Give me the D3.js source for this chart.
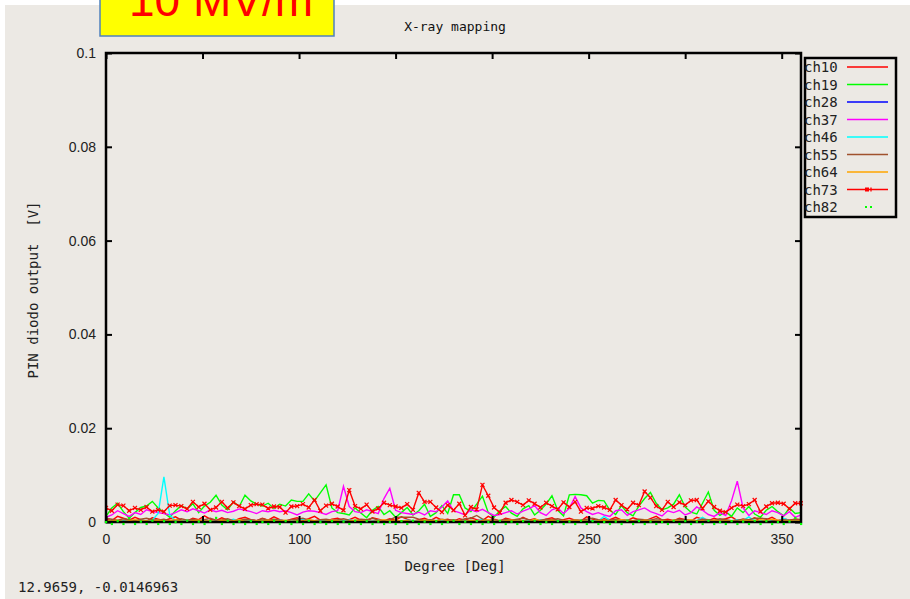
<!DOCTYPE html>
<html>
<head>
<meta charset="utf-8">
<script src="https://cdn.jsdelivr.net/npm/d3@7"></script>
<style>
  body { margin: 0; background: #fff; }
</style>
</head>
<body>
<script>
// x positions (degrees) shared by all channels
const degrees = [
  0, 3, 6, 9, 12, 15, 18, 21, 24, 27,
  30, 33, 36, 39, 42, 45, 48, 51, 54, 57,
  60, 63, 66, 69, 72, 75, 78, 81, 84, 87,
  90, 93, 96, 99, 102, 105, 108, 111, 114, 117,
  120, 123, 126, 129, 132, 135, 138, 141, 144, 147,
  150, 153, 156, 159, 162, 165, 168, 171, 174, 177,
  180, 183, 186, 189, 192, 195, 198, 201, 204, 207,
  210, 213, 216, 219, 222, 225, 228, 231, 234, 237,
  240, 243, 246, 249, 252, 255, 258, 261, 264, 267,
  270, 273, 276, 279, 282, 285, 288, 291, 294, 297,
  300, 303, 306, 309, 312, 315, 318, 321, 324, 327,
  330, 333, 336, 339, 342, 345, 348, 351, 354, 357,
  360
];

// PIN diode output per channel, in mV
const ch10 = [
  0.6, 0.3, 1.2, 0.8, 0.4, 1.0, 0.5, 0.2, 0.9, 0.6,
  0.3, 0.7, 1.1, 0.4, 0.2, 0.8, 0.5, 1.3, 0.6, 0.3,
  0.9, 0.4, 0.2, 0.7, 1.0, 0.5, 0.3, 0.8, 0.4, 1.1,
  0.5, 0.2, 0.6, 0.9, 0.3, 0.7, 1.2, 0.4, 0.2, 0.6,
  0.8, 0.3, 0.5, 1.0, 0.4, 0.2, 0.9, 0.6, 0.3, 0.7,
  0.4, 1.1, 0.6, 0.2, 0.5, 0.8, 0.3, 1.0, 0.4, 0.6,
  0.2, 0.7, 0.4, 0.9, 0.5, 0.3, 1.2, 0.6, 0.2, 0.8,
  0.5, 0.3, 1.0, 0.4, 0.7, 0.2, 0.6, 0.9, 0.3, 0.5,
  0.8, 0.4, 0.2, 1.1, 0.6, 0.3, 0.7, 0.5, 1.0, 0.4,
  0.3, 0.9, 0.5, 0.2, 0.7, 1.2, 0.4, 0.6, 0.3, 0.8,
  0.5, 0.2, 1.0, 0.6, 0.3, 0.8, 0.4, 0.7, 1.1, 0.3,
  0.6, 0.4, 0.9, 0.2, 0.5, 1.0, 0.3, 0.7, 0.4, 0.6,
  0.5
];
const ch19 = [
  1.2, 3.0, 4.0, 2.2, 0.8, 2.0, 3.1, 3.4, 4.4, 3.0,
  2.0, 1.0, 2.4, 3.5, 2.8, 3.9, 2.0, 3.4, 4.2, 5.7,
  3.6, 2.6, 4.3, 3.3, 5.7, 4.5, 3.8, 3.4, 4.0, 2.9,
  3.8, 3.4, 4.7, 4.4, 4.4, 6.0, 4.5, 6.2, 7.9, 3.0,
  2.0, 1.8, 1.5, 3.0, 1.9, 0.9, 2.5, 3.3, 1.6, 2.4,
  1.0, 2.0, 3.1, 1.5, 2.4, 3.8, 1.2, 2.0, 3.5, 1.8,
  5.8, 5.8, 3.0, 2.2, 3.8, 5.5, 2.0, 1.0, 2.4, 3.3,
  1.9, 1.2, 2.8, 3.5, 1.5, 2.5, 3.8, 5.6, 2.5, 1.3,
  5.8, 5.9, 5.8, 5.6, 4.0, 4.6, 4.5, 2.5, 1.6, 3.5,
  2.0, 1.3, 3.4, 5.0, 6.3, 4.0, 2.6, 3.0, 3.8, 5.8,
  3.2, 2.1, 1.7, 4.0, 6.4, 2.5, 1.4, 2.2, 1.2, 3.0,
  2.0, 3.3, 1.7, 1.0, 2.5, 3.3, 2.2, 1.3, 3.0, 1.8,
  2.0
];
const ch28 = [
  0.1, 0.2, 0.0, 0.3, 0.1, 0.2, 0.1, 0.0, 0.2, 0.1,
  0.3, 0.1, 0.2, 0.0, 0.1, 0.3, 0.2, 0.1, 0.0, 0.2,
  0.1, 0.0, 0.3, 0.1, 0.2, 0.1, 0.0, 0.2, 0.3, 0.1,
  0.2, 0.1, 0.0, 0.2, 0.1, 0.3, 0.1, 0.2, 0.0, 0.1,
  0.0, 0.2, 0.1, 0.3, 0.2, 0.0, 0.1, 0.2, 0.1, 0.0,
  0.2, 0.1, 0.3, 0.0, 0.1, 0.2, 0.1, 0.0, 0.2, 0.3,
  0.1, 0.2, 0.0, 0.1, 0.3, 0.1, 0.2, 0.0, 0.1, 0.2,
  0.0, 0.1, 0.2, 0.3, 0.1, 0.0, 0.2, 0.1, 0.3, 0.1,
  0.2, 0.0, 0.1, 0.2, 0.1, 0.3, 0.0, 0.2, 0.1, 0.0,
  0.1, 0.3, 0.2, 0.0, 0.1, 0.2, 0.1, 0.3, 0.0, 0.2,
  0.1, 0.0, 0.2, 0.1, 0.3, 0.1, 0.0, 0.2, 0.1, 0.2,
  0.3, 0.1, 0.0, 0.2, 0.1, 0.0, 0.3, 0.1, 0.2, 0.1,
  0.0
];
const ch37 = [
  1.0, 1.5, 2.4, 1.8, 1.2, 2.0, 1.6, 2.6, 2.2, 2.0,
  1.8, 1.5, 2.0, 2.6, 2.2, 2.8, 2.4, 1.9, 2.6, 2.2,
  2.5, 2.0, 2.3, 2.8, 2.5, 2.2, 1.8, 2.4, 2.2, 2.5,
  2.2, 2.4, 2.0, 1.5, 2.1, 2.4, 2.3, 2.0, 1.6, 2.2,
  2.4, 7.6, 3.3, 2.2, 2.0, 2.6, 2.2, 1.8, 5.0, 7.2,
  2.5, 2.0, 1.8, 1.6, 2.1, 1.5, 2.4, 2.2, 3.2, 4.5,
  2.4, 2.0, 1.5, 2.6, 2.2, 2.7, 2.0, 1.4, 1.6, 2.0,
  2.4, 1.7, 2.3, 2.8, 3.5, 2.0, 1.4, 2.6, 3.0, 1.8,
  2.9, 5.4, 3.0, 2.2, 1.6, 2.0, 1.5, 1.2, 2.4, 2.6,
  1.4, 2.2, 2.6, 3.0, 2.2, 1.8, 1.3, 2.4, 2.0, 2.5,
  1.5, 2.0, 3.2, 2.5, 1.6, 1.2, 2.0, 1.4, 4.5, 8.7,
  3.0, 1.4, 2.4, 2.0, 1.6, 2.4, 2.0, 1.3, 2.2, 1.0,
  1.5
];
const ch46 = [
  0.2, 0.1, 0.4, 0.2, 0.3, 0.1, 0.5, 0.2, 0.4, 1.8,
  9.6, 1.5, 0.3, 0.2, 0.4, 0.1, 0.3, 0.5, 0.2, 0.1,
  0.3, 0.2, 0.6, 0.2, 0.1, 0.4, 0.2, 0.3, 0.1, 0.2,
  0.4, 0.2, 0.1, 0.3, 0.6, 0.2, 0.1, 0.3, 0.2, 0.4,
  0.2, 0.3, 0.5, 0.1, 0.2, 0.3, 0.1, 0.4, 0.2, 0.3,
  0.1, 0.2, 0.4, 0.3, 0.1, 0.2, 0.5, 0.2, 0.3, 0.1,
  0.3, 0.2, 0.1, 0.4, 0.2, 0.6, 0.3, 0.1, 0.2, 0.3,
  0.2, 0.4, 0.1, 0.3, 0.2, 0.5, 0.2, 0.3, 0.1, 0.2,
  0.3, 0.1, 0.2, 0.4, 0.3, 0.2, 1.2, 0.3, 0.1, 0.2,
  0.4, 0.2, 0.3, 0.1, 0.5, 0.2, 0.3, 0.2, 0.1, 0.3,
  0.2, 0.4, 0.3, 1.0, 0.2, 0.1, 0.4, 0.3, 0.2, 0.5,
  0.3, 1.1, 0.2, 0.3, 0.1, 0.4, 0.2, 0.8, 0.3, 0.2,
  0.1
];
const ch55 = [
  0.8, 0.6, 0.4, 0.7, 0.5, 0.3, 0.6, 0.8, 0.5, 0.4,
  0.6, 0.3, 0.5, 0.7, 0.4, 0.6, 0.3, 0.5, 0.8, 0.4,
  0.5, 0.7, 0.3, 0.4, 0.6, 0.5, 0.3, 0.7, 0.4, 0.6,
  0.4, 0.3, 0.5, 0.6, 0.8, 0.4, 0.3, 0.5, 0.6, 0.4,
  0.5, 0.7, 0.4, 0.3, 0.6, 0.5, 0.8, 0.4, 0.3, 0.5,
  1.0, 1.0, 1.0, 1.0, 0.6, 0.4, 0.5, 0.3, 0.6, 0.4,
  0.5, 0.3, 0.7, 0.8, 1.4, 0.6, 0.4, 0.5, 0.3, 0.6,
  0.4, 0.6, 0.8, 0.5, 0.3, 0.4, 0.6, 0.5, 0.7, 0.4,
  0.3, 0.5, 0.4, 0.6, 0.8, 0.5, 0.3, 0.4, 0.6, 0.5,
  0.4, 0.3, 0.6, 0.5, 0.4, 0.7, 0.5, 0.3, 0.4, 0.6,
  0.5, 0.4, 0.3, 0.6, 0.5, 0.4, 0.7, 0.5, 0.3, 0.4,
  0.6, 0.5, 0.8, 0.8, 0.7, 0.4, 0.3, 0.5, 0.4, 0.6,
  0.5
];
const ch64 = [
  0.3, 0.2, 0.4, 0.1, 0.3, 0.5, 0.2, 0.3, 0.1, 0.4,
  0.2, 0.3, 0.5, 0.2, 0.1, 0.3, 0.4, 0.2, 0.3, 0.1,
  0.4, 0.2, 0.3, 0.5, 0.2, 0.1, 0.3, 0.2, 0.4, 0.3,
  0.2, 0.4, 0.1, 0.3, 0.2, 0.5, 0.3, 0.1, 0.2, 0.4,
  0.3, 0.1, 0.2, 0.4, 0.3, 0.2, 0.1, 0.3, 0.5, 0.2,
  0.4, 0.2, 0.3, 0.1, 0.2, 0.4, 0.3, 0.2, 0.5, 0.3,
  0.2, 0.3, 0.1, 0.4, 0.2, 0.3, 0.5, 0.2, 0.1, 0.3,
  0.4, 0.2, 0.3, 0.1, 0.6, 0.3, 0.2, 0.4, 0.1, 0.3,
  0.2, 0.4, 0.3, 0.2, 0.1, 0.3, 0.4, 0.2, 0.3, 0.5,
  0.3, 0.2, 0.1, 0.4, 0.3, 0.2, 0.3, 0.1, 0.4, 0.2,
  0.3, 0.5, 0.2, 0.3, 0.1, 0.4, 0.2, 0.3, 0.2, 0.1,
  0.4, 0.3, 0.2, 0.5, 0.3, 0.6, 0.4, 0.2, 0.3, 0.2,
  0.3
];
const ch73 = [
  3.0, 2.4, 3.7, 3.5, 2.4, 3.0, 2.6, 3.2, 2.2, 2.6,
  2.2, 3.5, 3.6, 3.4, 2.8, 4.3, 3.2, 3.9, 2.6, 3.1,
  4.3, 3.0, 4.2, 3.4, 2.8, 3.6, 3.8, 3.7, 2.9, 3.3,
  3.2, 2.0, 3.3, 3.4, 3.8, 3.1, 4.7, 2.4, 3.5, 3.9,
  3.3, 2.5, 6.8, 3.4, 2.8, 3.7, 2.2, 2.9, 4.1, 3.6,
  3.3, 3.0, 3.8, 2.6, 6.2, 4.3, 4.3, 3.1, 2.1, 3.6,
  2.5, 3.9, 1.4, 3.2, 2.7, 7.9, 5.6, 3.1, 2.0, 4.1,
  4.7, 4.3, 3.6, 4.6, 3.9, 3.1, 4.1, 3.4, 2.7, 4.2,
  3.2, 4.3, 2.2, 3.0, 2.9, 3.4, 3.1, 2.6, 4.7, 3.6,
  2.7, 4.1, 3.6, 6.5, 5.2, 3.4, 2.6, 4.3, 3.2, 4.2,
  3.6, 4.6, 4.7, 2.9, 4.4, 3.2, 2.4, 2.1, 3.0, 3.7,
  3.4, 3.8, 4.7, 2.2, 3.3, 4.0, 4.1, 3.9, 2.8, 4.0,
  4.0
];
const ch82 = [
  0.0, -0.4, 0.2, -0.4, 0.8, -0.4, 0.1, -0.4, 0.3, -0.4,
  0.2, -0.4, 0.0, -0.4, 0.3, -0.4, 0.1, -0.4, 0.2, 0.9,
  -0.4, 0.3, -0.4, 0.1, -0.4, 0.2, -0.4, 0.0, -0.4, 0.3,
  -0.4, 0.2, -0.4, 0.1, -0.4, 0.3, -0.4, 0.0, -0.4, 0.2,
  -0.4, 0.1, -0.4, 0.3, -0.4, 0.2, -0.4, 0.1, -0.4, 0.0,
  -0.4, 0.2, -0.4, 0.3, -0.4, 0.1, -0.4, 0.2, -0.4, 0.0,
  0.3, -0.4, 0.1, -0.4, 0.2, -0.4, 0.0, -0.4, 0.3, -0.4,
  0.1, -0.4, 0.2, -0.4, 0.3, -0.4, 0.0, -0.4, 0.2, -0.4,
  0.1, -0.4, 0.3, -0.4, 0.2, -0.4, 0.0, -0.4, 0.1, -0.4,
  0.3, -0.4, 0.2, -0.4, 0.1, -0.4, 0.0, -0.4, 0.3, -0.4,
  0.2, -0.4, 0.1, -0.4, 0.3, -0.4, 0.0, -0.4, 0.2, -0.4,
  0.1, -0.4, 0.3, -0.4, 0.2, -0.4, 0.0, -0.4, 0.1, 0.9,
  -0.4
];

const channels = ["ch10", "ch19", "ch28", "ch37", "ch46", "ch55", "ch64", "ch73", "ch82"];
const channelValues = [ch10, ch19, ch28, ch37, ch46, ch55, ch64, ch73, ch82];
const channelColors = ["#ff0000", "#00ff00", "#0000ff", "#ff00ff", "#00ffff", "#a0522d", "#ffa500", "#ff0000", "#00ff00"];
const channelStyle = ["line", "line", "line", "line", "line", "line", "line", "linespoints", "dots"];

const xTicks = [0, 50, 100, 150, 200, 250, 300, 350];
const yTicks = [0, 0.02, 0.04, 0.06, 0.08, 0.1];
const yTickLabels = ["0", "0.02", "0.04", "0.06", "0.08", "0.1"];

const width = 910;
const height = 599;
const marginTop = 53;
const marginRight = 109;
const marginBottom = 77;
const marginLeft = 106;
const monoFont = "'DejaVu Sans Mono', monospace";
const fontSize = 14;

const svg = d3.select("body").append("svg")
    .attr("width", width)
    .attr("height", height)
    .style("font-family", monoFont);

// window background (white strip at top/left)
svg.append("rect")
    .attr("x", 5).attr("y", 5)
    .attr("width", width - 5).attr("height", height - 5)
    .attr("fill", "#ece9e4");

const x = d3.scaleLinear()
    .domain([0, 360])
    .range([marginLeft, width - marginRight]);

const y = d3.scaleLinear()
    .domain([0, 0.1])
    .range([height - marginBottom, marginTop]);

// title
svg.append("text")
    .attr("x", 455).attr("y", 31)
    .attr("text-anchor", "middle")
    .attr("font-size", 13)
    .attr("fill", "#111")
    .text("X-ray mapping");

// plot clip
svg.append("clipPath").attr("id", "clip")
    .append("rect")
    .attr("x", marginLeft).attr("y", marginTop - 2)
    .attr("width", x(360) - marginLeft + 2)
    .attr("height", y(0) - marginTop + 6);

const line = d3.line()
    .x((d, i) => x(degrees[i]))
    .y(d => y(d / 1000));

const plot = svg.append("g").attr("clip-path", "url(#clip)");

channelValues.forEach((vals, k) => {
    const color = channelColors[k];
    if (channelStyle[k] !== "dots") {
        plot.append("path")
            .datum(vals)
            .attr("fill", "none")
            .attr("stroke", color)
            .attr("stroke-width", 1.4)
            .attr("d", line);
    }
    if (channelStyle[k] === "linespoints") {
        plot.append("g")
            .selectAll("path")
            .data(vals)
            .join("path")
            .attr("d", (d, i) => {
                const cx = x(degrees[i]), cy = y(d / 1000);
                return `M${cx - 2},${cy - 2}L${cx + 2},${cy + 2}M${cx - 2},${cy + 2}L${cx + 2},${cy - 2}`;
            })
            .attr("stroke", color)
            .attr("stroke-width", 1.2);
    }
});

// axes with inward ticks (gnuplot style, mirrored)
svg.append("g")
    .attr("transform", `translate(0,${y(0)})`)
    .call(d3.axisBottom(x).tickValues(xTicks).tickSize(-6).tickPadding(12).tickFormat(d3.format("d")));
svg.append("g")
    .attr("transform", `translate(0,${y(0.1)})`)
    .call(d3.axisTop(x).tickValues(xTicks).tickSize(-6).tickFormat(""));
svg.append("g")
    .attr("transform", `translate(${marginLeft},0)`)
    .call(d3.axisLeft(y).tickValues(yTicks).tickSize(-6).tickPadding(10).tickFormat((d, i) => yTickLabels[i]));
svg.append("g")
    .attr("transform", `translate(${x(360)},0)`)
    .call(d3.axisRight(y).tickValues(yTicks).tickSize(-6).tickFormat(""));

svg.selectAll(".domain").remove();
svg.selectAll(".tick line").attr("stroke", "#000").attr("stroke-width", 2);
svg.selectAll(".tick text")
    .attr("font-family", null)
    .attr("font-size", fontSize)
    .attr("fill", "#222");

// plot frame
svg.append("rect")
    .attr("x", marginLeft).attr("y", marginTop)
    .attr("width", x(360) - marginLeft)
    .attr("height", y(0) - marginTop)
    .attr("fill", "none")
    .attr("stroke", "#000")
    .attr("stroke-width", 2.5);

// ch82 dots sit on top of the frame line
const dotIdx = channelStyle.indexOf("dots");
svg.append("g")
    .selectAll("rect")
    .data(channelValues[dotIdx])
    .join("rect")
    .attr("x", (d, i) => x(degrees[i]) - 1)
    .attr("y", d => y(d / 1000) - 1)
    .attr("width", 2.2)
    .attr("height", 2.2)
    .attr("fill", channelColors[dotIdx]);

// axis labels
svg.append("text")
    .attr("transform", "translate(38,290) rotate(-90)")
    .attr("text-anchor", "middle")
    .attr("font-size", fontSize)
    .attr("fill", "#222")
    .style("white-space", "pre")
    .text("PIN diodo output  [V]");

svg.append("text")
    .attr("x", 455).attr("y", 571)
    .attr("text-anchor", "middle")
    .attr("font-size", fontSize)
    .attr("fill", "#222")
    .text("Degree [Deg]");

svg.append("text")
    .attr("x", 18).attr("y", 592)
    .attr("font-size", fontSize)
    .attr("fill", "#222")
    .text("12.9659, -0.0146963");

// legend
const legend = svg.append("g");
legend.append("rect")
    .attr("x", 805).attr("y", 58)
    .attr("width", 91).attr("height", 159)
    .attr("fill", "none")
    .attr("stroke", "#000")
    .attr("stroke-width", 2.5);

channels.forEach((name, k) => {
    const ly = 67 + k * 17.5;
    const color = channelColors[k];
    legend.append("text")
        .attr("x", 804).attr("y", ly + 5)
        .attr("font-size", fontSize)
        .attr("fill", "#222")
        .text(name);
    if (channelStyle[k] !== "dots") {
        legend.append("line")
            .attr("x1", 847).attr("x2", 888)
            .attr("y1", ly).attr("y2", ly)
            .attr("stroke", color)
            .attr("stroke-width", 1.4);
    }
    if (channelStyle[k] === "linespoints") {
        legend.append("rect")
            .attr("x", 865).attr("y", ly - 2)
            .attr("width", 4).attr("height", 4)
            .attr("fill", color);
        legend.append("line")
            .attr("x1", 871).attr("x2", 871)
            .attr("y1", ly - 2).attr("y2", ly + 2)
            .attr("stroke", color).attr("stroke-width", 1.3);
    }
    if (channelStyle[k] === "dots") {
        [866, 871].forEach(px => legend.append("rect")
            .attr("x", px - 1).attr("y", ly - 1)
            .attr("width", 2).attr("height", 2)
            .attr("fill", color));
    }
});

// slide label overlay (cut off at the top edge, as in the source slide)
svg.append("rect")
    .attr("x", 100).attr("y", -10)
    .attr("width", 234).attr("height", 46)
    .attr("fill", "#ffff00")
    .attr("stroke", "#4f81bd")
    .attr("stroke-width", 1.5);
svg.append("text")
    .attr("x", 221).attr("y", 16)
    .attr("text-anchor", "middle")
    .style("font-family", "'Liberation Sans', Arial, sans-serif")
    .attr("font-size", 46)
    .attr("fill", "#ff0000")
    .text("10 MV/m");
</script>
</body>
</html>
